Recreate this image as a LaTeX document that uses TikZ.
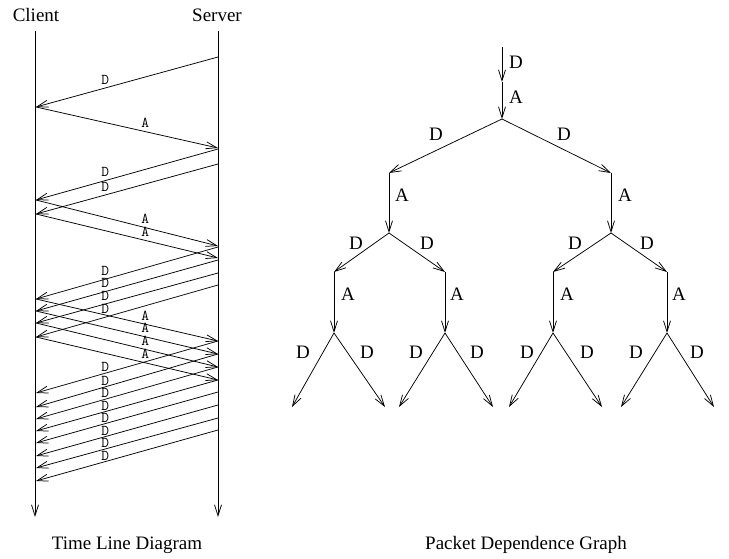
\documentclass[tikz,border=0pt]{standalone}
\usepackage{fontspec}
\setmainfont{Liberation Serif}
\usetikzlibrary{arrows.meta}
\begin{document}
\begin{tikzpicture}[x=1pt,y=-1pt,line width=0.75pt,
  msg/.style={-{Straight Barb[length=11pt,width=7pt]}},
  tlbl/.style={font=\fontsize{15}{15}\ttfamily,inner sep=0pt},
  glbl/.style={font=\fontsize{19}{19}\selectfont,inner sep=0pt}]
\useasboundingbox (0,0) rectangle (729,559);

% ---------- time line ----------
\node[glbl] (client) at (36,15) {Client};
\node[glbl] (server) at (217,15) {Server};
\coordinate (c0) at (35,31);  \coordinate (c1) at (35,517);
\coordinate (s0) at (218,31); \coordinate (s1) at (218,517);
\draw[msg] (c0) -- (c1);
\draw[msg] (s0) -- (s1);

% data packets: server send time / client receive time
\foreach \s/\r [count=\i] in {57/107,149/200,164/214,247/299,260/311,273/323,285/337,
    341/393,354/407,367/419,380/431,392/443,405/456,418/468,430/481}{
  \pgfmathsetmacro\off{\i<8 ? 3.5 : 1}
  \coordinate (ds\i) at (218,\s);
  \coordinate (dr\i) at (36,\r);
  \draw[msg] (ds\i) -- node[tlbl,pos=.62,above=\off pt] (dl\i) {D} (dr\i);
}
% acknowledgements: client send time / server receive time
\foreach \s/\r [count=\i] in {107/148,200/246,214/258,299/341,311/354,323/367,337/380}{
  \coordinate (as\i) at (36,\s);
  \coordinate (ar\i) at (218,\r);
  \draw[msg] (as\i) -- node[tlbl,pos=.6,above=3.5pt] (al\i) {A} (ar\i);
}
\node[glbl] (tlcap) at (127,545) {Time Line Diagram};

% ---------- dependence graph ----------
\coordinate (t0) at (502,47);
\coordinate (t1) at (502,82);
\coordinate (t2) at (502,119);
\coordinate (L1) at (389,173);  \coordinate (R1) at (611,173);
\coordinate (L2) at (389,233);  \coordinate (R2) at (611,233);
\coordinate (LL1) at (334,272); \coordinate (LR1) at (445,272);
\coordinate (RL1) at (553,272); \coordinate (RR1) at (667,272);
\coordinate (LL2) at (334,333); \coordinate (LR2) at (445,333);
\coordinate (RL2) at (553,333); \coordinate (RR2) at (667,333);
\coordinate (e1) at (292,407); \coordinate (e2) at (385,407);
\coordinate (e3) at (399,407); \coordinate (e4) at (493,407);
\coordinate (e5) at (509,407); \coordinate (e6) at (602,407);
\coordinate (e7) at (621,407); \coordinate (e8) at (714,407);

\foreach \u/\v/\lx/\ly/\t in {t0/t1/516/62/D, t1/t2/516/97/A,
    t2/L1/436/134/D, t2/R1/564/134/D,
    L1/L2/402/195/A, R1/R2/625/195/A,
    L2/LL1/356/243/D, L2/LR1/427/243/D, R2/RL1/575/243/D, R2/RR1/647/243/D,
    LL1/LL2/348/294/A, LR1/LR2/457/294/A, RL1/RL2/567/294/A, RR1/RR2/679/294/A,
    LL2/e1/303/352/D, LL2/e2/367/352/D, LR2/e3/416/352/D, LR2/e4/477/352/D,
    RL2/e5/527/352/D, RL2/e6/587/352/D, RR2/e7/636/352/D, RR2/e8/697/352/D}{
  \draw[msg] (\u) -- (\v);
  \node[glbl] (lbl-\u-\v) at (\lx,\ly) {\t};
}
\node[glbl] (pgcap) at (526,545) {Packet Dependence Graph};
\end{tikzpicture}
\end{document}
